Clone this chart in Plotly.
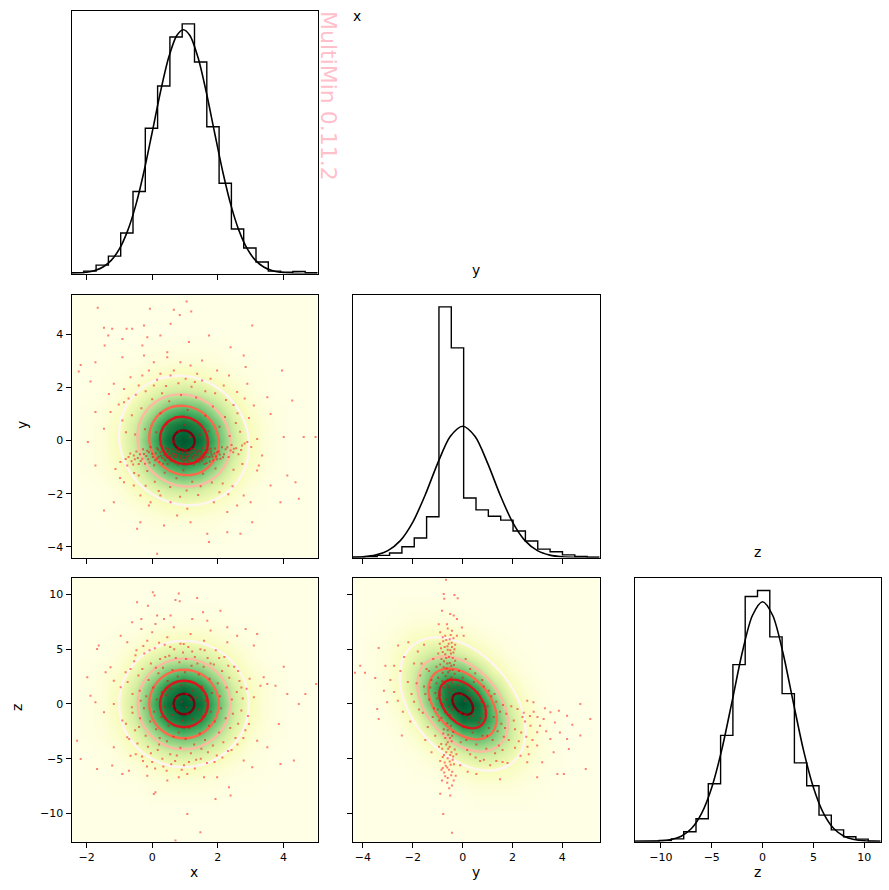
import numpy as np
import plotly.graph_objects as go

W, H = 889, 890

# Axis limits
x_range = [-2.46, 5.04]
y_range = [-4.42, 5.49]
z_range = [-12.6, 11.6]
y_range_row = [-4.4, 5.49]
z_range_row = [-12.56, 11.55]

# Histogram heights (fraction of panel height), 20 bins across each axis
hist_x = [.003, .009, .032, .066, .154, .312, .552, .713, .899, .949, .804, .558, .343, .169, .097, .044, .009, .005, .008, .003]
hist_y = [.001, .003, .008, .017, .041, .074, .155, .953, .797, .226, .181, .157, .142, .101, .063, .032, .022, .010, .004, .001]
hist_z = [.001, .001, .004, .010, .037, .086, .219, .402, .670, .928, .951, .775, .560, .298, .211, .100, .044, .018, .009, .001]

# Fitted marginal curves
curve_x_pos = [-2.46, -2, -1.75, -1.5, -1.25, -1, -.75, -.5, -.25, 0, .25, .5, .75, .95, 1.15, 1.4, 1.65, 1.9, 2.15, 2.4, 2.65, 2.9, 3.15, 3.4, 3.65, 3.9, 4.4, 5.04]
curve_x_val = [.0008, .0048, .0114, .0248, .0499, .0933, .162, .26, .388, .537, .689, .82, .905, .927, .905, .82, .689, .537, .388, .26, .162, .0933, .0499, .0248, .0114, .0048, .0005, 0]
curve_y_pos = [-4.42, -4, -3.5, -3, -2.5, -2, -1.5, -1, -.5, 0, .5, 1, 1.5, 2, 2.5, 3, 3.5, 4, 4.42, 5.49]
curve_y_val = [.0008, .0026, .009, .0261, .0642, .1345, .2386, .359, .46, .499, .46, .359, .2386, .1345, .0642, .0261, .009, .0026, .0008, 0]
curve_z_pos = [-12.6, -10, -9, -8, -7, -6, -5, -4, -3, -2, -1, 0, 1, 2, 3, 4, 5, 6, 7, 8, 9, 10, 11.6]
curve_z_val = [.0001, .0024, .0073, .0201, .049, .1067, .205, .35, .531, .716, .856, .908, .856, .716, .531, .35, .205, .1067, .049, .0201, .0073, .0024, 0]

# Density tables, percent of the peak
density_grid_x = [-1.97, -1.48, -.99, -.5, -.01, .48, .97, 1.46, 1.95, 2.44, 2.93, 3.42, 3.91]
density_grid_y = [-3.6, -3, -2.4, -1.8, -1.2, -.6, 0, .6, 1.2, 1.8, 2.4, 3, 3.6]
density_grid_z = [-8.5, -7.1, -5.7, -4.3, -2.85, -1.4, 0, 1.4, 2.85, 4.3, 5.7, 7.1, 8.5]
density_round = [
    [0, 0, 0, 0, 1, 1, 1, 1, 1, 0, 0, 0, 0],
    [0, 0, 1, 1, 3, 4, 4, 4, 3, 1, 1, 0, 0],
    [0, 1, 2, 4, 8, 12, 14, 12, 8, 4, 2, 1, 0],
    [0, 1, 4, 11, 20, 29, 32, 29, 20, 11, 4, 1, 0],
    [1, 3, 8, 20, 37, 54, 61, 54, 37, 20, 8, 3, 1],
    [1, 4, 12, 29, 54, 78, 88, 78, 54, 29, 12, 4, 1],
    [1, 4, 14, 32, 61, 88, 100, 88, 61, 32, 14, 4, 1],
    [1, 4, 12, 29, 54, 78, 88, 78, 54, 29, 12, 4, 1],
    [1, 3, 8, 20, 37, 54, 61, 54, 37, 20, 8, 3, 1],
    [0, 1, 4, 11, 20, 29, 32, 29, 20, 11, 4, 1, 0],
    [0, 1, 2, 4, 8, 12, 14, 12, 8, 4, 2, 1, 0],
    [0, 0, 1, 1, 3, 4, 4, 4, 3, 1, 1, 0, 0],
    [0, 0, 0, 0, 1, 1, 1, 1, 1, 0, 0, 0, 0],
]
tilted_grid_y = [-3.74, -3.11, -2.49, -1.87, -1.25, -.62, 0, .62, 1.25, 1.87, 2.49, 3.11, 3.74]
tilted_grid_z = [-9, -7.5, -6, -4.5, -3, -1.5, 0, 1.5, 3, 4.5, 6, 7.5, 9]
density_tilted = [
    [0, 0, 0, 0, 0, 0, 0, 1, 1, 1, 1, 0, 0],
    [0, 0, 0, 0, 0, 1, 2, 4, 4, 4, 2, 1, 0],
    [0, 0, 0, 1, 2, 5, 9, 13, 13, 10, 6, 2, 1],
    [0, 0, 1, 2, 7, 15, 26, 32, 30, 20, 10, 4, 1],
    [0, 0, 2, 7, 18, 37, 55, 60, 49, 30, 13, 4, 1],
    [0, 1, 5, 15, 37, 65, 86, 84, 60, 32, 13, 4, 1],
    [0, 2, 9, 26, 55, 86, 100, 86, 55, 26, 9, 2, 0],
    [1, 4, 13, 32, 60, 84, 86, 65, 37, 15, 5, 1, 0],
    [1, 4, 13, 30, 49, 60, 55, 37, 18, 7, 2, 0, 0],
    [1, 4, 10, 20, 30, 32, 26, 15, 7, 2, 1, 0, 0],
    [1, 2, 6, 10, 13, 13, 9, 5, 2, 1, 0, 0, 0],
    [0, 1, 2, 4, 4, 4, 2, 1, 0, 0, 0, 0, 0],
    [0, 0, 1, 1, 1, 1, 0, 0, 0, 0, 0, 0, 0],
]

# Contour levels drawn as closed rings, innermost first
ring_colors = ["#7a0510", "#d7191f", "#fb6a4a", "#fcbba1", "#fff5f0"]

rings_xy = [
    ([1.295, 1.251, 1.133, .97, .808, .689, .645, .689, .808, .97, 1.133, 1.251, 1.295],
     [-.03, .164, .314, .38, .344, .216, .03, -.164, -.314, -.38, -.344, -.216, -.03]),
    ([1.7, 1.602, 1.335, .97, .605, .338, .24, .338, .605, .97, 1.335, 1.602, 1.7],
     [-.071, .384, .735, .89, .806, .506, .071, -.384, -.735, -.89, -.806, -.506, -.071]),
    ([2.03, 1.888, 1.5, .97, .44, .052, -.09, .052, .44, .97, 1.5, 1.888, 2.03],
     [-.104, .56, 1.074, 1.3, 1.178, .74, .104, -.56, -1.074, -1.3, -1.178, -.74, -.104]),
    ([2.39, 2.2, 1.68, .97, .26, -.26, -.45, -.26, .26, .97, 1.68, 2.2, 2.39],
     [-.138, .746, 1.429, 1.73, 1.567, .984, .138, -.746, -1.429, -1.73, -1.567, -.984, -.138]),
    ([2.955, 2.689, 1.963, .97, -.023, -.749, -1.015, -.749, -.023, .97, 1.963, 2.689, 2.955],
     [-.194, 1.047, 2.007, 2.43, 2.2, 1.383, .194, -1.047, -2.007, -2.43, -2.2, -1.383, -.194]),
]
rings_xz = [
    ([1.285, 1.243, 1.128, .97, .813, .697, .655, .697, .813, .97, 1.128, 1.243, 1.285],
     [0, .47, .814, .94, .814, .47, 0, -.47, -.814, -.94, -.814, -.47, 0]),
    ([1.7, 1.602, 1.335, .97, .605, .338, .24, .338, .605, .97, 1.335, 1.602, 1.7],
     [0, 1.06, 1.836, 2.12, 1.836, 1.06, 0, -1.06, -1.836, -2.12, -1.836, -1.06, 0]),
    ([2.03, 1.888, 1.5, .97, .44, .052, -.09, .052, .44, .97, 1.5, 1.888, 2.03],
     [0, 1.565, 2.71, 3.13, 2.71, 1.565, 0, -1.565, -2.71, -3.13, -2.71, -1.565, 0]),
    ([2.38, 2.191, 1.675, .97, .265, -.251, -.44, -.251, .265, .97, 1.675, 2.191, 2.38],
     [0, 2.07, 3.585, 4.14, 3.585, 2.07, 0, -2.07, -3.585, -4.14, -3.585, -2.07, 0]),
    ([2.95, 2.685, 1.96, .97, -.02, -.745, -1.01, -.745, -.02, .97, 1.96, 2.685, 2.95],
     [0, 2.89, 5, 5.78, 5, 2.89, 0, -2.89, -5, -5.78, -5, -2.89, 0]),
]
rings_yz = [
    ([.415, .359, .208, 0, -.208, -.359, -.415, -.359, -.208, 0, .208, .359, .415],
     [-.4, .098, .57, .888, .969, .79, .4, -.098, -.57, -.888, -.969, -.79, -.4]),
    ([.937, .811, .469, 0, -.469, -.811, -.937, -.811, -.469, 0, .469, .811, .937],
     [-.91, .224, 1.3, 2.025, 2.21, 1.8, .91, -.224, -1.3, -2.025, -2.21, -1.8, -.91]),
    ([1.365, 1.182, .683, 0, -.683, -1.182, -1.365, -1.182, -.683, 0, .683, 1.182, 1.365],
     [-1.324, .326, 1.89, 2.946, 3.214, 2.62, 1.324, -.326, -1.89, -2.946, -3.214, -2.62, -1.324]),
    ([1.82, 1.576, .91, 0, -.91, -1.576, -1.82, -1.576, -.91, 0, .91, 1.576, 1.82],
     [-1.78, .44, 2.545, 3.967, 4.328, 3.528, 1.78, -.44, -2.545, -3.967, -4.328, -3.528, -1.78]),
    ([2.53, 2.191, 1.265, 0, -1.265, -2.191, -2.53, -2.191, -1.265, 0, 1.265, 2.191, 2.53],
     [-2.5, .615, 3.56, 5.55, 6.06, 4.94, 2.5, -.615, -3.56, -5.55, -6.06, -4.94, -2.5]),
]

# Sample points per panel
points_xy = [
    (-1.66, 4.99), (-.07, 4.95), (1.05, 5.23), (.66, 4.92), (.84, 4.72), (1.19, 4.85), (-1.47, 4.24), (-1.22, 4.2), (-.78, 4.2),
    (-.61, 4.2), (-.25, 4.32), (.56, 4.39), (3.05, 4.32), (-1.34, 3.95), (-.91, 3.82), (-.15, 3.88), (.25, 3.95), (1.12, 3.7),
    (1.73, 3.95), (-1.45, 3.57), (-.3, 3.57), (.46, 3.32), (1.52, 3.01), (2.39, 3.51), (2.79, 3.2), (-2.18, 2.84), (-1.73, 2.94),
    (-1.88, 2.22), (-2.24, 2.59), (-.91, 3.13), (-.25, 3.2), (.05, 2.94), (.46, 3.13), (.86, 2.94), (1.17, 2.82), (1.98, 2.63),
    (2.34, 2.44), (2.85, 2.76), (-1.17, 2.13), (-.66, 2.38), (-.1, 2.63), (.25, 2.51), (.66, 2.63), (1.37, 2.51), (1.78, 2.32),
    (2.9, 2.13), (-1.32, 1.75), (-.86, 1.94), (-.41, 2.07), (.05, 2.07), (.56, 2.44), (1.02, 2.32), (1.52, 2.26), (2.18, 2.07),
    (2.59, 1.82), (3.51, 1.63), (3.96, 2.63), (4.27, 1.5), (3.1, 1.32), (3.61, 1.0), (-1.73, 1.07), (-1.27, 1.07), (-.86, 1.44),
    (-1.47, .44), (-1.96, -.06), (-.91, .75), (-1.73, -.94), (-1.47, -2.63), (-1.17, -2.32), (-.76, -.94), (-1.12, -1.07), (-.97, -.81),
    (-.56, -.56), (-.3, -.69), (-.1, -.44), (-.41, -.88), (.15, -.69), (.36, -.44), (.56, -.56), (.76, -.38), (1.07, -.69), (1.37, -.44),
    (1.78, -.31), (1.98, -.44), (2.29, -.25), (2.39, -.38), (2.49, -.31), (2.74, -.19), (2.9, -.06), (3.2, .06), (4.01, .13), (4.62, .13),
    (4.98, .13), (3.35, -.56), (3.25, -.94), (3.2, -1.13), (4.12, -1.32), (4.37, -1.57), (3.91, -2.32), (4.47, -2.19), (3.61, -1.69),
    (2.79, -2.07), (3.0, -2.32), (2.59, -2.44), (2.29, -2.69), (1.88, -2.32), (1.07, -2.57), (.56, -2.32), (.25, -2.07), (-.05, -2.32),
    (-.36, -2.07), (-.56, -1.69), (-.86, -1.57), (-.36, -3.07), (-.46, -3.32), (.15, -4.26), (1.68, -3.51), (1.73, -3.82), (2.29, -3.45),
    (2.69, -3.51), (3.05, -3.07), (1.17, -3.07), (.76, -2.82), (.36, -3.2), (-.1, -2.44),
    # crowded horizontal band below the centre
    (-.72, -.62), (-.63, -.78), (-.48, -.41), (-.44, -.66), (-.37, -.52), (-.28, -.33), (-.22, -.87), (-.18, -.58), (-.12, -.71), (-.05, -.24),
    (.02, -.62), (.06, -.93), (.11, -.48), (.18, -.35), (.22, -.81), (.27, -.57), (.31, -.66), (.39, -.74), (.42, -.29), (.47, -.88),
    (.5, -.42), (.53, -.69), (.61, -.33), (.64, -.79), (.68, -.51), (.72, -.63), (.78, -.91), (.82, -.27), (.85, -.57), (.9, -.72),
    (.94, -.44), (.98, -.83), (1.01, -.36), (1.04, -.61), (1.1, -.77), (1.14, -.49), (1.19, -.31), (1.22, -.68), (1.27, -.9), (1.31, -.55),
    (1.35, -.71), (1.41, -.38), (1.44, -.82), (1.49, -.59), (1.53, -.29), (1.57, -.66), (1.61, -.47), (1.66, -.85), (1.7, -.36), (1.74, -.62),
    (1.81, -.53), (1.86, -.74), (1.91, -.3), (1.95, -.6), (2.03, -.41), (2.08, -.69), (2.13, -.25), (2.19, -.52), (2.24, -.33), (2.33, -.62),
    (2.42, -.17), (2.47, -.44), (2.56, -.29), (2.63, -.52), (2.71, -.36), (2.82, -.11), (3.02, -.24),
    (-.81, -.7), (-.67, -.49), (-.58, -.9), (-.53, -.71), (-.35, -.77), (-.25, -.51), (-.15, -.39), (-.08, -.83), (.0, -.5), (.09, -.74), (.14, -.29), (.2, -.61),
    (.25, -.44), (.33, -.87), (.37, -.55), (.45, -.63), (.49, -.32), (.57, -.77), (.6, -.49), (.66, -.62), (.7, -.84), (.75, -.55), (.8, -.42), (.87, -.66), (.92, -.31),
    (.96, -.59), (1.0, -.72), (1.06, -.47), (1.12, -.58), (1.17, -.84), (1.2, -.43), (1.25, -.61), (1.3, -.33), (1.33, -.79), (1.38, -.56), (1.43, -.67), (1.47, -.42),
    (1.52, -.75), (1.55, -.52), (1.6, -.88), (1.64, -.6), (1.69, -.46), (1.76, -.79), (1.79, -.42), (1.84, -.61), (1.9, -.49), (1.98, -.71), (2.06, -.53), (2.16, -.63),
    # scatter inside the rings
    (.12, .31), (.25, 1.02), (.38, -1.21), (.44, .62), (.52, 1.48), (.62, -.05), (.7, .88), (.74, -1.42), (.82, .34), (.88, 1.71), (.95, -1.12), (1.0, .58),
    (1.08, 1.15), (1.15, .12), (1.22, -1.55), (1.28, .74), (1.34, 1.62), (1.45, .21), (1.55, -1.25), (1.62, .93), (1.72, .35), (1.85, 1.28), (1.93, -1.05),
    (2.05, .52), (2.15, -1.62), (2.22, .88), (2.36, .17), (2.48, -1.1), (2.55, .66), (-.22, .42), (-.33, 1.21), (-.41, -1.32), (-.52, .23), (-.62, .95), (.0, 1.55),
    (.08, -1.55), (-.15, -1.15), (-.72, 1.58), (-.8, .31), (.3, 1.78), (1.2, 2.02), (1.62, 1.85), (2.6, 1.02), (2.75, -.88), (2.45, -1.72), (1.4, -2.05), (.85, -2.12),
    (-.3, 2.44), (-.5, 1.72), (-1.02, 1.35), (-.2, 1.85), (.15, 2.28), (.42, 2.05), (.8, 2.15), (1.3, 2.2), (1.92, 1.78), (2.25, 1.52), (2.48, 1.33), (2.82, 1.58), (2.95, .85),
    (2.68, .33), (.2, -1.9), (.55, -1.75), (1.05, -1.88), (1.48, -1.72), (1.82, -1.58), (2.05, -1.95), (2.32, -2.02), (-.2, -1.7), (-.55, -1.22), (-.98, -1.41),
]
points_xz = [
    (.02, 10.2), (.07, 9.9), (.81, 10.1), (1.37, 9.67), (.71, 9.5), (.84, 9.37), (-.46, 9.28), (-.13, 8.98), (.15, 8.07), (.56, 8.07), (1.55, 8.37), (2.08, 8.52),
    (-.61, 7.46), (-.33, 7.76), (.1, 7.31), (.36, 7.76), (1.22, 7.76), (1.68, 7.61), (2.29, 7.0), (2.85, 6.85), (-.96, 6.24), (-.33, 6.85), (-.0, 6.55), (.66, 7.0),
    (1.17, 6.4), (1.78, 6.7), (2.59, 6.24), (3.2, 6.4), (-1.63, 5.33), (-.76, 5.63), (-.15, 5.78), (.46, 6.09), (.96, 5.48), (1.58, 5.78), (2.29, 5.63), (3.1, 5.33),
    (-1.68, 5.02), (-1.27, 3.35), (-1.42, 2.9), (-1.98, 2.44), (-1.17, 2.13), (-.96, 1.52), (-.81, 2.9), (-.51, 4.44), (3.51, 1.83), (4.01, 3.41), (3.4, 2.44), (3.76, 1.67),
    (4.12, .91), (4.67, .91), (5.0, 1.83), (-1.88, .76), (-1.73, .15), (-1.47, -.76), (-1.17, 0), (-.91, -1.52), (-2.29, -3.35), (-2.18, -5.02), (-1.68, -5.94), (-1.17, -3.96),
    (-1.22, -5.63), (-.76, -3.05), (-.66, -4.72), (-.91, -6.39), (-.71, -6.09), (-.15, -6.55), (.1, -8.07), (.46, -7.0), (.81, -6.7), (1.07, -6.39), (1.58, -6.7), (1.98, -6.7),
    (2.34, -7.61), (2.79, -5.17), (3.05, -5.78), (3.51, -3.96), (3.91, -5.48), (4.32, -5.17), (3.86, -1.83), (4.47, 0), (1.07, -10.05), (1.47, -11.72), (.71, -12.48), (1.93, -8.68),
    (2.39, -8.37), (3.2, -3.35), (2.95, -1.83), (3.1, .61), (3.3, 1.67), (.05, -8.22),
    # upper half of the cloud
    (-.55, 3.9), (-.42, 2.6), (-.38, 1.2), (-.3, 3.2), (-.24, 4.6), (-.18, .7), (-.11, 2.2), (-.04, 3.7), (.03, 1.5), (.08, 5.1), (.14, .4), (.19, 2.8), (.24, 4.1), (.29, 1.1),
    (.33, 3.3), (.38, 5.4), (.43, .8), (.47, 2.1), (.52, 4.4), (.58, 1.4), (.62, 3.1), (.67, 5.0), (.73, .5), (.78, 2.5), (.83, 3.8), (.89, 1.7), (.94, 4.7), (1.0, 2.9), (1.05, .9),
    (1.1, 5.2), (1.15, 2.0), (1.2, 3.5), (1.25, 1.2), (1.3, 4.3), (1.36, .6), (1.42, 2.7), (1.47, 5.0), (1.52, 1.6), (1.57, 3.4), (1.63, .3), (1.69, 4.2), (1.75, 2.3), (1.82, 1.0),
    (1.88, 3.6), (1.94, 4.9), (2.0, 1.9), (2.07, .7), (2.13, 3.0), (2.2, 4.3), (2.27, 1.5), (2.35, 2.4), (2.43, .4), (2.5, 3.4), (2.58, 1.1), (2.66, 2.1), (2.76, .5), (2.88, 1.4),
    (-.75, 2.0), (-.66, 3.2), (-.6, .9), (-.48, 4.9), (-.35, .3), (-.27, 5.3), (-.08, 4.9), (.11, 3.3), (.21, 5.6), (.4, 4.3), (.55, 5.2), (.72, 4.2), (.86, 5.5), (1.03, 4.1), (1.22, 4.8),
    (1.38, 3.7), (1.6, 4.9), (1.78, 3.7), (2.04, 4.2), (2.32, 3.5), (2.62, 3.0), (2.72, 1.5), (2.97, 2.3),
    # lower half of the cloud
    (-.6, -.8), (-.52, -2.4), (-.45, -3.6), (-.37, -1.3), (-.31, -4.8), (-.25, -.4), (-.2, -2.9), (-.13, -3.9), (-.06, -1.6), (.0, -5.3), (.06, -.7), (.12, -2.3), (.17, -4.2), (.23, -3.1),
    (.28, -1.2), (.34, -5.7), (.39, -.3), (.45, -3.4), (.5, -2.0), (.55, -4.6), (.6, -1.0), (.65, -3.0), (.7, -5.2), (.76, -.6), (.81, -2.6), (.86, -4.0), (.92, -1.5), (.97, -5.6), (1.02, -3.2),
    (1.08, -.9), (1.13, -2.2), (1.18, -4.5), (1.23, -1.4), (1.28, -3.7), (1.34, -5.1), (1.4, -.5), (1.45, -2.7), (1.5, -4.1), (1.55, -1.1), (1.61, -3.3), (1.67, -5.4), (1.73, -2.0),
    (1.79, -.7), (1.85, -3.8), (1.91, -1.6), (1.97, -4.7), (2.04, -2.6), (2.1, -.4), (2.17, -3.5), (2.24, -1.3), (2.31, -4.3), (2.38, -2.2), (2.46, -.9), (2.54, -3.1), (2.62, -1.8),
    (2.72, -.6), (2.84, -2.4), (.9, .2), (1.05, -.3), (.78, .6), (1.18, .4), (.62, -.2),
    (-.8, -1.8), (-.7, -3.2), (-.62, -.3), (-.5, -4.6), (-.4, -2.1), (-.28, -5.2), (-.16, -5.7), (-.04, -4.5), (.09, -5.9), (.21, -3.7), (.31, -5.0), (.44, -6.1), (.58, -5.5), (.75, -4.7),
    (.9, -6.0), (1.12, -5.3), (1.3, -5.9), (1.48, -5.0), (1.7, -4.4), (1.9, -5.3), (2.14, -4.9), (2.42, -4.2), (2.6, -3.7), (2.78, -3.1), (2.92, -1.1),
]
points_yz = [
    (-.67, 11.34), (-.76, 10.05), (-.74, 9.6), (-.2, 9.66), (-.33, 9.96), (-.83, 8.52), (-.5, 8.22), (-.36, 8.07), (-.96, 7.28), (-.23, 7.76), (-.63, 7.28), (-.03, 6.98), (-.43, 6.68),
    (-.9, 6.54), (-.7, 6.24), (-.23, 6.24), (.04, 6.24), (-.52, 5.9), (-.44, 5.6), (-.78, 5.72), (-.3, 5.4), (-.61, 5.27), (-.87, 5.1), (-.5, 4.9), (-.37, 4.7), (-.7, 4.55), (-.55, 4.3),
    (-.85, 4.1), (-.3, 3.95), (-.62, 3.7), (-.46, 3.5), (-.76, 3.35), (-.4, 3.1), (-.58, 2.9), (-.32, 2.75), (-.68, 2.55), (-.5, 2.3), (-.82, 2.1), (-.42, 1.95), (-.6, 1.7), (-.74, 1.5),
    (-.36, 1.3), (-.53, 1.05), (-.88, .85), (-.45, .6), (-.65, .4), (-.3, .2), (-.8, 0), (-.55, -.25), (-.4, -.5), (-.7, -.75), (-.5, -1), (-.85, -1.25), (-.33, -1.5), (-.62, -1.75),
    (-.47, -2), (-.76, -2.3), (-.38, -2.55), (-.58, -2.8), (-.7, -3.1), (-.44, -3.4), (-.86, -3.65), (-.52, -3.9), (-.32, -4.15), (-.66, -4.4), (-.5, -4.65), (-.8, -4.85), (-.4, -5.1),
    (-.6, -3.5), (-.72, -5.35), (-.48, -5.55), (-.62, -5.8), (-.85, -6.0), (-.42, -6.2), (-.7, -6.6), (-.28, -6.55), (-.83, -7.0), (-.43, -7.45), (-.54, -7.7), (-.9, -8.2), (-.5, -8.35),
    (-.78, -10.05), (-.43, -11.77),
    # crowded vertical band near y = -0.5
    (-.6, 6.9), (-.8, 6.1), (-.48, 6.3), (-.37, 6.0), (-.66, 5.85), (-.92, 5.5), (-.56, 5.5), (-.72, 5.2), (-.43, 5.2), (-.33, 5.0), (-.6, 4.95), (-.8, 4.75), (-.47, 4.6), (-.66, 4.2),
    (-.4, 4.2), (-.75, 3.9), (-.52, 3.75), (-.9, 3.6), (-.35, 3.55), (-.65, 3.25), (-.52, 3.05), (-.8, 2.85), (-.44, 2.45), (-.6, 2.2), (-.72, 1.85), (-.54, 1.5), (-.6, -2.4), (-.42, -2.9),
    (-.78, -2.7), (-.5, -3.1), (-.66, -3.7), (-.82, -4.1), (-.45, -4.4), (-.58, -4.1), (-.75, -4.65), (-.38, -4.8), (-.6, -4.95), (-.9, -5.2), (-.52, -5.25), (-.35, -5.5), (-.68, -5.65),
    (-.8, -5.85), (-.55, -6.0), (-.46, -6.5), (-.74, -6.25), (-.6, -6.75), (-.36, -7.0), (-.62, -7.2),
    # tail towards positive y and negative z
    (2.84, .15), (3.52, -.76), (4.72, 0), (5.12, -1.37), (4.19, -1.07), (3.86, -.61), (3.25, -1.37), (2.72, -1.98), (2.99, -2.59), (3.52, -3.2), (4.19, -3.2), (4.72, -2.89), (2.99, -3.8),
    (3.65, -4.41), (4.26, -4.11), (4.94, -5.94), (3.8, -6.4), (4.06, -6.4), (2.99, -6.7), (3.19, -5.33), (2.59, -5.33), (2.32, -4.72), (1.5, -6.88), (2.59, .3), (2.2, -.46), (2.05, -1.5),
    (2.35, -2.6), (1.85, -3.3), (2.1, -4.0), (1.75, -.9), (2.45, -.8), (1.95, -.2), (1.6, -4.2), (1.35, -5.2), (2.7, -1.1), (3.1, -2.0), (3.9, -2.6), (4.4, -1.9), (1.8, -5.4), (2.6, -3.9),
    (2.5, -1.6), (2.85, -.7), (3.3, -.4), (3.0, -1.2), (2.55, -3.0), (2.25, -3.4), (2.8, -3.3), (3.35, -2.5), (3.7, -1.7), (2.4, -1.2), (2.1, -2.3), (2.65, -4.6),
    # scattered to the left and above the ellipse
    (-3.37, 5.11), (-4.11, 3.5), (-4.32, 2.85), (-3.92, 2.85), (-3.51, 2.37), (-3.16, 1.2), (-3.03, .15), (-3.43, -.46), (-3.37, -1.37), (-2.44, -2.89), (-2.75, 3.5), (-2.18, 5.63), (-2.59, 5.33),
    (-3.1, 3.5), (-2.9, 2.2), (-2.75, 1.1), (-2.6, .3), (-2.5, 3.0), (-2.35, 4.3), (-2.2, 2.0), (-2.05, .9), (-1.95, 3.7), (-1.8, 4.8), (-1.7, 2.6), (-1.55, 5.4), (-2.4, -.7), (-2.1, -1.6),
    # body of the ellipse
    (-1.55, 1.6), (-1.45, 3.2), (-1.35, .4), (-1.25, 2.2), (-1.18, 4.1), (-1.1, 1.0), (-1.05, 3.4), (-1.0, -.5), (-.98, 2.4), (-.95, -1.5), (-1.2, -1.2), (-1.4, -2.1), (-1.6, -.8), (-1.1, -2.9),
    (-.95, -3.9), (-1.25, -4.4), (-1.5, -3.3), (-.2, 1.7), (-.15, 3.0), (-.1, -.8), (-.05, .8), (0, 2.4), (.05, -2.1), (.1, .3), (.15, -3.3), (.2, 1.2), (.25, -1.3), (.3, -4.6), (.35, .6), (.4, -2.6),
    (.45, 2.0), (.5, -.4), (.55, -3.7), (.6, 1.1), (.65, -1.7), (.7, -5.2), (.75, .2), (.8, -2.9), (.85, 1.6), (.9, -.9), (.95, -4.1), (1.0, -.2), (1.05, -2.2), (1.1, -5.6), (1.15, .7), (1.2, -3.3),
    (1.25, -1.2), (1.3, -4.5), (1.35, .2), (1.4, -2.5), (1.45, -3.8), (1.5, -.7), (1.55, -1.8), (1.6, -5.3), (1.65, -3.0), (1.7, -2.2), (-.25, -4.6), (-.1, -5.6), (.2, -6.2), (.55, -6.4),
    (-1.3, 1.5), (-1.15, -.4), (-1.02, .5), (-1.35, 3.0), (-1.65, 3.7), (-1.85, 1.9), (-1.95, .2), (-1.75, -.5), (-1.5, .9), (-1.05, 1.9), (-.98, 4.6), (.12, 4.1), (.3, 3.2), (.5, 2.8), (.78, 2.2),
    (1.05, 1.2), (1.28, .9), (1.62, -.1), (.1, -1.0), (.42, -1.1), (.7, -1.3), (.98, -2.9), (.18, -4.2), (.52, -4.9), (.85, -5.1), (-.08, -3.5),
]


def panel_domain(left, right, top, bottom):
    return [left / W, right / W], [1 - bottom / H, 1 - top / H]


fig = go.Figure()

axis_text = dict(family="DejaVu Sans", size=11, color="black")
axis_common = dict(showgrid=False, zeroline=False, showline=True, mirror=True, linecolor="black", linewidth=1,
                   ticks="outside", ticklen=5, tickwidth=1, tickcolor="black", tickfont=axis_text)

cols = [(71.5, 317.5), (352.5, 599.5), (634.5, 880.5)]
rows = [(10.5, 273.5), (294.5, 557.5), (577.5, 841.5)]
x_ticks = [-2, 0, 2, 4]
y_ticks = [-4, -2, 0, 2, 4]
z_ticks = [-10, -5, 0, 5, 10]


def add_axes(name, col, row, xr, yr, xt, yt, xlabels, ylabels):
    dx, dy = panel_domain(cols[col][0], cols[col][1], rows[row][0], rows[row][1])
    fig.update_layout({
        "xaxis" + name: dict(axis_common, domain=dx, range=xr, tickvals=xt, showticklabels=xlabels, anchor="y" + name),
        "yaxis" + name: dict(axis_common, domain=dy, range=yr, tickvals=yt, showticklabels=ylabels, anchor="x" + name,
                             ticks="outside" if yt else ""),
    })


add_axes("", 0, 0, x_range, [0, 1], x_ticks, [], False, False)
add_axes("2", 0, 1, x_range, y_range_row, x_ticks, y_ticks, False, True)
add_axes("3", 1, 1, y_range, [0, 1], y_ticks, [], False, False)
add_axes("4", 0, 2, x_range, z_range_row, x_ticks, z_ticks, True, True)
add_axes("5", 1, 2, y_range, z_range_row, y_ticks, z_ticks, True, False)
add_axes("6", 2, 2, z_range, [0, 1], z_ticks, [], True, False)


def add_hist(name, limits, heights, curve_pos, curve_val):
    edges = np.linspace(limits[0], limits[1], len(heights) + 1).tolist()
    fig.add_trace(go.Scatter(x=[edges[0]] + edges, y=[0] + heights + [0], mode="lines",
                             line=dict(shape="hv", color="black", width=1.4), xaxis="x" + name, yaxis="y" + name, hoverinfo="skip"))
    fig.add_trace(go.Scatter(x=curve_pos, y=curve_val, mode="lines",
                             line=dict(shape="spline", smoothing=0.8, color="black", width=1.6), xaxis="x" + name, yaxis="y" + name, hoverinfo="skip"))


def add_joint(name, gx, gy, table, rings, points):
    fig.add_trace(go.Heatmap(x=gx, y=gy, z=table, colorscale="YlGn", zmin=0, zmax=106, zsmooth="best", showscale=False,
                             xaxis="x" + name, yaxis="y" + name, hoverinfo="skip"))
    for (rx, ry), colour in zip(rings, ring_colors):
        fig.add_trace(go.Scatter(x=rx, y=ry, mode="lines", line=dict(shape="spline", smoothing=1.0, color=colour, width=2.4),
                                 xaxis="x" + name, yaxis="y" + name, hoverinfo="skip"))
    fig.add_trace(go.Scatter(x=[p[0] for p in points], y=[p[1] for p in points], mode="markers",
                             marker=dict(symbol="square", size=2, color="rgba(255,0,0,0.5)", line=dict(width=0)),
                             xaxis="x" + name, yaxis="y" + name, hoverinfo="skip"))


add_hist("", x_range, hist_x, curve_x_pos, curve_x_val)
add_hist("3", y_range, hist_y, curve_y_pos, curve_y_val)
add_hist("6", z_range, hist_z, curve_z_pos, curve_z_val)
add_joint("2", density_grid_x, density_grid_y, density_round, rings_xy, points_xy)
add_joint("4", density_grid_x, density_grid_z, density_round, rings_xz, points_xz)
add_joint("5", tilted_grid_y, tilted_grid_z, density_tilted, rings_yz, points_yz)


def label(text, px, py, size=13.9, angle=0, colour="black"):
    fig.add_annotation(text=text, x=px / W, y=1 - py / H, xref="paper", yref="paper", showarrow=False,
                       textangle=angle, xanchor="center", yanchor="middle",
                       font=dict(family="DejaVu Sans", size=size, color=colour))


label("x", 357, 16)
label("y", 476, 270)
label("z", 757, 552)
label("x", 194, 872)
label("y", 476, 872)
label("z", 757, 872)
label("y", 22, 425, angle=-90)
label("z", 17, 708, angle=-90)
label("MultiMin 0.11.2", 328, 96, size=22, angle=90, colour="pink")

fig.update_layout(width=W, height=H, autosize=False, margin=dict(l=0, r=0, t=0, b=0), showlegend=False,
                  paper_bgcolor="white", plot_bgcolor="white")
for name in ["2", "4", "5"]:
    fig.add_shape(type="rect", xref="x" + name + " domain", yref="y" + name + " domain", x0=0, x1=1, y0=0, y1=1,
                  fillcolor="#ffffe5", line=dict(width=0), layer="below")

fig.write_html("out.html", config=dict(displayModeBar=False))
